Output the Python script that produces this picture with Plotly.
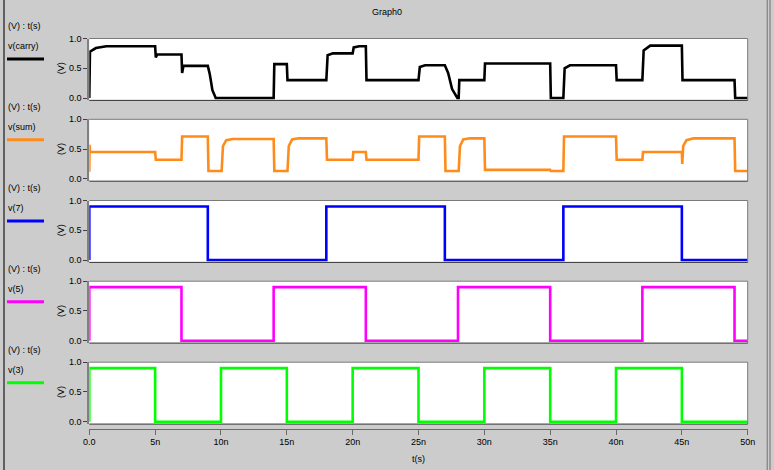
import plotly.graph_objects as go

# ---------------- data (time in ns, voltage in V) ----------------
t_carry = [0, 0.05, 0.5, 1.3, 5.0, 5.05, 5.15, 7.0, 7.05, 7.15, 9.0, 9.15, 9.35, 9.6,
           14.0, 14.05, 15.0, 15.05, 18.0, 18.1, 18.5, 20.0, 20.08, 20.5, 21.0, 21.05,
           25.0, 25.1, 25.5, 27.0, 27.25, 27.55, 27.95, 28.05, 28.1, 30.0, 30.05,
           35.0, 35.05, 36.0, 36.1, 36.5, 40.0, 40.05, 42.0, 42.1, 42.6, 45.0, 45.05,
           49.0, 49.05, 50.0]
v_carry = [0, 0.78, 0.84, 0.87, 0.87, 0.68, 0.73, 0.73, 0.42, 0.54, 0.54, 0.40, 0.13, 0.0,
           0.0, 0.57, 0.57, 0.30, 0.30, 0.72, 0.75, 0.75, 0.85, 0.87, 0.87, 0.30,
           0.30, 0.52, 0.55, 0.55, 0.42, 0.15, 0.0, 0.0, 0.30, 0.30, 0.58,
           0.58, 0.0, 0.0, 0.50, 0.55, 0.55, 0.30, 0.30, 0.80, 0.88, 0.88, 0.30,
           0.30, 0.0, 0.0]

t_sum = [0, 0.02, 0.06, 0.12, 5.0, 5.05, 7.0, 7.05, 9.0, 9.05, 10.05, 10.15, 10.4, 10.9,
         14.0, 14.05, 15.05, 15.15, 15.4, 15.9, 18.0, 18.05, 20.0, 20.05, 21.0, 21.05,
         25.0, 25.05, 27.0, 27.05, 28.05, 28.15, 28.4, 28.9, 30.0, 30.05, 35.0, 35.05,
         36.0, 36.05, 40.0, 40.05, 42.0, 42.05, 45.0, 45.03, 45.1, 45.35, 45.9, 49.0,
         49.05, 50.0]
v_sum = [0.12, 0.57, 0.45, 0.45, 0.45, 0.32, 0.32, 0.71, 0.71, 0.13, 0.13, 0.55, 0.65, 0.67,
         0.67, 0.13, 0.13, 0.55, 0.66, 0.68, 0.68, 0.32, 0.32, 0.45, 0.45, 0.32,
         0.32, 0.71, 0.71, 0.13, 0.13, 0.55, 0.66, 0.68, 0.68, 0.15, 0.15, 0.13,
         0.13, 0.71, 0.71, 0.32, 0.32, 0.45, 0.45, 0.25, 0.55, 0.65, 0.68, 0.68,
         0.13, 0.13]

t_v7 = [0, 0, 9, 18, 27, 36, 45, 50]
v_v7 = [0, 0.9, 0, 0.9, 0, 0.9, 0, 0]

t_v5 = [0, 0, 7, 14, 21, 28, 35, 42, 49, 50]
v_v5 = [0, 0.9, 0, 0.9, 0, 0.9, 0, 0.9, 0, 0]

t_v3 = [0, 0, 5, 10, 15, 20, 25, 30, 35, 40, 45, 50]
v_v3 = [0, 0.9, 0, 0.9, 0, 0.9, 0, 0.9, 0, 0.9, 0, 0]

x_tickvals = [0, 5, 10, 15, 20, 25, 30, 35, 40, 45, 50]
x_ticktext = ["0.0", "5n", "10n", "15n", "20n", "25n", "30n", "35n", "40n", "45n", "50n"]
y_tickvals = [0, 0.5, 1.0]
y_ticktext = ["0.0", "0.5", "1.0"]

names = ["v(carry)", "v(sum)", "v(7)", "v(5)", "v(3)"]
colors = ["#000000", "#ff8c1a", "#0000ff", "#ff00ff", "#00ff00"]
series_t = [t_carry, t_sum, t_v7, t_v5, t_v3]
series_v = [v_carry, v_sum, v_v7, v_v5, v_v3]
shapes_line = ["linear", "linear", "hv", "hv", "hv"]

# ---------------- layout geometry (pixels) ----------------
W, H = 774, 470
X0, X1 = 89.3, 747.7
TOPS = [38.5, 119.3, 200.5, 281.2, 362.2]
PXU = 59.5          # pixels per volt
YMIN = -0.04
FONT = "Liberation Sans"


def px(x):
    return x / W


def py(y):
    return 1 - y / H


fig = go.Figure()
annotations = []
shapes = []
layout = {}

for i in range(5):
    k = "" if i == 0 else str(i + 1)
    top = TOPS[i]
    bot = top + PXU * (1 - YMIN)
    fig.add_trace(go.Scatter(
        x=series_t[i], y=series_v[i], mode="lines",
        line=dict(color=colors[i], width=2.6, shape=shapes_line[i]),
        xaxis="x" + k, yaxis="y" + k, showlegend=False, hoverinfo="skip"))

    xa = dict(domain=[px(X0), px(X1)], range=[0, 50], showgrid=False, zeroline=False,
              showline=False, fixedrange=True, automargin=False)
    if i < 4:
        xa.update(anchor="y" + k, showticklabels=False, ticks="")
    else:
        xa.update(anchor="free", position=py(428.5), showline=True, linecolor="#6a6a6a",
                  linewidth=1, ticks="outside", ticklen=5, tickcolor="#6a6a6a",
                  tickvals=x_tickvals, ticktext=x_ticktext,
                  tickfont=dict(family=FONT, size=9, color="#000"))
    ya = dict(domain=[py(bot), py(top)], range=[YMIN, 1.0], anchor="x" + k,
              showgrid=False, zeroline=False, showline=True, linecolor="#808080",
              linewidth=2, ticks="outside", ticklen=4, tickcolor="#404040",
              tickvals=y_tickvals, ticktext=y_ticktext, automargin=False,
              tickfont=dict(family=FONT, size=9, color="#000"), fixedrange=True)
    layout["xaxis" + k] = xa
    layout["yaxis" + k] = ya

    # panel border: top/right gray, bottom dark
    shapes.append(dict(type="line", xref="paper", yref="paper", x0=px(X0), x1=px(X1),
                       y0=py(top), y1=py(top), line=dict(color="#7a7a7a", width=1)))
    shapes.append(dict(type="line", xref="paper", yref="paper", x0=px(X1), x1=px(X1),
                       y0=py(top), y1=py(bot), line=dict(color="#7a7a7a", width=1)))
    shapes.append(dict(type="line", xref="paper", yref="paper", x0=px(X0), x1=px(X1),
                       y0=py(bot), y1=py(bot), line=dict(color="#303030", width=1)))

    # left legend
    annotations.append(dict(x=px(6), y=py(top - 12.5), xref="paper", yref="paper",
                            text="(V) : t(s)", showarrow=False, xanchor="left",
                            yanchor="middle", font=dict(family=FONT, size=9, color="#000")))
    annotations.append(dict(x=px(6), y=py(top + 7.5), xref="paper", yref="paper",
                            text=names[i], showarrow=False, xanchor="left",
                            yanchor="middle", font=dict(family=FONT, size=9, color="#000")))
    shapes.append(dict(type="line", xref="paper", yref="paper", x0=px(7), x1=px(44),
                       y0=py(top + 20.5), y1=py(top + 20.5),
                       line=dict(color=colors[i], width=3)))
    # y-axis title
    annotations.append(dict(x=px(61), y=py(top + PXU * 0.5), xref="paper", yref="paper",
                            text="(V)", showarrow=False, textangle=-90, xanchor="center",
                            yanchor="middle", font=dict(family=FONT, size=9, color="#000")))

# title and x title
annotations.append(dict(x=0.5, y=py(12), xref="paper", yref="paper", text="Graph0",
                        showarrow=False, xanchor="center", yanchor="middle",
                        font=dict(family=FONT, size=9, color="#000")))
annotations.append(dict(x=px((X0 + X1) / 2), y=py(459), xref="paper", yref="paper",
                        text="t(s)", showarrow=False, xanchor="center", yanchor="middle",
                        font=dict(family=FONT, size=9, color="#000")))

# outer window frame lines
shapes.append(dict(type="line", xref="paper", yref="paper", x0=px(4), x1=px(4), y0=0, y1=1,
                   line=dict(color="#606060", width=2)))
shapes.append(dict(type="line", xref="paper", yref="paper", x0=px(767.2), x1=px(767.2),
                   y0=0, y1=1, line=dict(color="#707070", width=1)))
shapes.append(dict(type="line", xref="paper", yref="paper", x0=px(770), x1=px(770),
                   y0=0, y1=1, line=dict(color="#707070", width=1)))

fig.update_layout(
    width=W, height=H, margin=dict(l=0, r=0, t=0, b=0, pad=0, autoexpand=False),
    paper_bgcolor="#cccccc", plot_bgcolor="#ffffff",
    annotations=annotations, shapes=shapes, showlegend=False,
    font=dict(family=FONT, size=9, color="#000"),
    **layout)

fig.write_html("out.html", config={"displayModeBar": False})
